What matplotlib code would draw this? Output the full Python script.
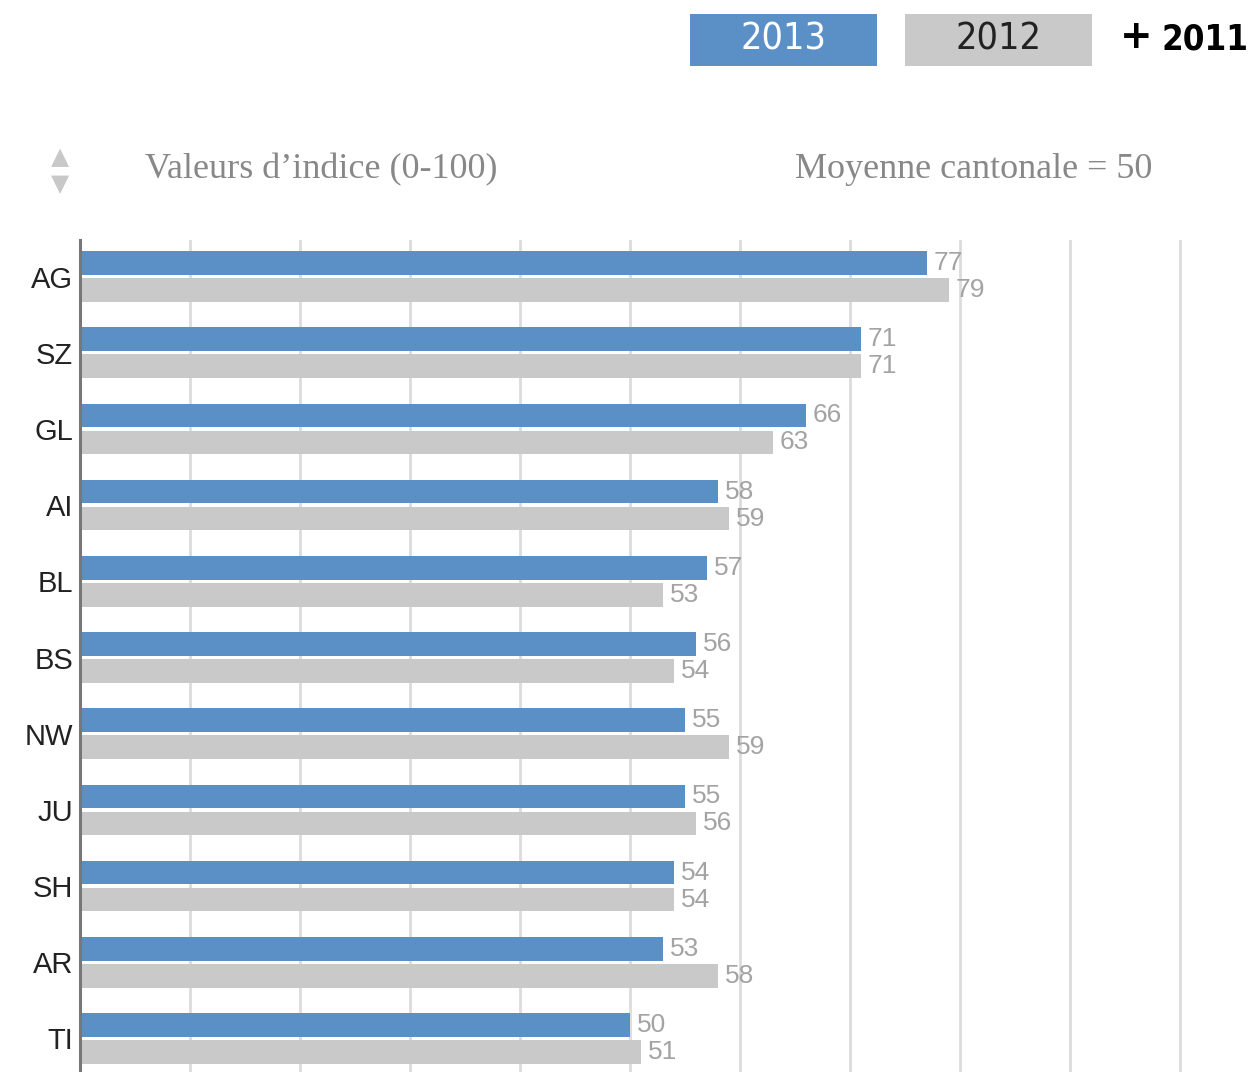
import matplotlib.pyplot as plt
from matplotlib.patches import Rectangle
import numpy as np

cantons = ["AG", "SZ", "GL", "AI", "BL", "BS", "NW", "JU", "SH", "AR", "TI"]
val_2013 = [77, 71, 66, 58, 57, 56, 55, 55, 54, 53, 50]
val_2012 = [79, 71, 63, 59, 53, 54, 59, 56, 54, 58, 51]
years = ["2013", "2012", "2011"]

blue = "#5b90c7"
grey = "#c9c9c9"

W, H = 1253, 1072
fig = plt.figure(figsize=(W / 100, H / 100), dpi=100)
ax = fig.add_axes([80 / W, 0, 1 - 80 / W, 1 - 240 / H])

y = np.arange(len(cantons))
off = 0.177
h = 0.31
ax.barh(y - off, val_2013, height=h, color=blue, zorder=3)
ax.barh(y + off, val_2012, height=h, color=grey, zorder=3)

for yi, v in zip(y, val_2013):
    ax.text(v + 0.6, yi - off, str(v), va="center", ha="left", fontsize=19,
            color="#a3a3a3", family="Liberation Sans", zorder=4)
for yi, v in zip(y, val_2012):
    ax.text(v + 0.6, yi + off, str(v), va="center", ha="left", fontsize=19,
            color="#a3a3a3", family="Liberation Sans", zorder=4)

ax.set_xlim(0, (W - 80) / 11)
ax.set_ylim(10.44, -0.48)
ax.set_xticks(np.arange(10, 101, 10))
ax.set_xticklabels([])
ax.set_yticks(y)
ax.set_yticklabels(cantons, fontsize=21, color="#222222", family="Liberation Sans")
ax.tick_params(axis="both", length=0)
ax.tick_params(axis="y", pad=5)
ax.grid(axis="x", color="#dcdcdc", linewidth=2, zorder=0)
for s in ["top", "right", "bottom"]:
    ax.spines[s].set_visible(False)
ax.spines["left"].set_color("#777777")
ax.spines["left"].set_linewidth(2.2)
ax.spines["left"].set_zorder(5)

# legend boxes at top
fig.add_artist(Rectangle((690 / W, 1 - 66 / H), 187 / W, 52 / H,
                         transform=fig.transFigure, color=blue, lw=0))
fig.add_artist(Rectangle((905 / W, 1 - 66 / H), 187 / W, 52 / H,
                         transform=fig.transFigure, color=grey, lw=0))
fig.text(783.5 / W, 1 - 39 / H, years[0], ha="center", va="center",
         fontsize=27, color="white", family="DejaVu Sans",
         fontstretch="condensed")
fig.text(998.5 / W, 1 - 39 / H, years[1], ha="center", va="center",
         fontsize=27, color="#222222", family="DejaVu Sans",
         fontstretch="condensed")
fig.text(1120 / W, 1 - 37 / H, "+", ha="left", va="center",
         fontsize=28, color="black", fontweight="bold", family="DejaVu Sans")
fig.text(1248 / W, 1 - 39 / H, years[2], ha="right", va="center",
         fontsize=25, color="black", fontweight="bold", family="DejaVu Sans",
         fontstretch="condensed")

# header line
fig.text(60 / W, 1 - 157 / H, "\u25b2", ha="center", va="center",
         fontsize=17, color="#c8c8c8", family="DejaVu Sans")
fig.text(60 / W, 1 - 184 / H, "\u25bc", ha="center", va="center",
         fontsize=17, color="#c8c8c8", family="DejaVu Sans")
fig.text(145 / W, 1 - 170 / H, "Valeurs d\u2019indice (0-100)", ha="left",
         va="center", fontsize=26, color="#888888", family="Liberation Serif")
fig.text(1152 / W, 1 - 170 / H, "Moyenne cantonale = 50", ha="right",
         va="center", fontsize=26, color="#888888", family="Liberation Serif")

fig.savefig("out.png", dpi=100)
